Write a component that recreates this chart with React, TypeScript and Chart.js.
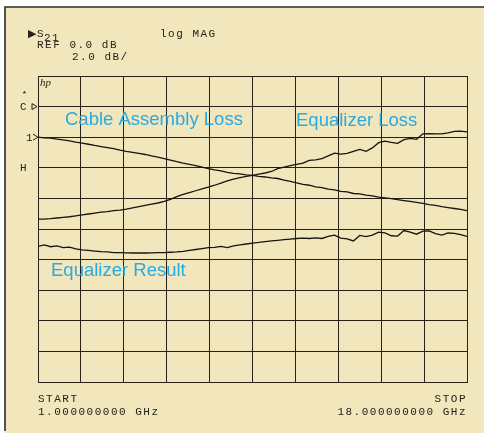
import React, { useEffect, useRef } from "react";
import { Chart, registerables } from "chart.js";

Chart.register(...registerables);

// Frequency sweep (GHz)
const freqGHz = [
  1, 1.25, 1.5, 1.75, 2, 2.25, 2.5, 2.75, 3, 3.25, 3.5, 3.75, 4, 4.25, 4.5, 4.75,
  5, 5.25, 5.5, 5.75, 6, 6.25, 6.5, 6.75, 7, 7.25, 7.5, 7.75, 8, 8.25, 8.5, 8.75,
  9, 9.25, 9.5, 9.75, 10, 10.25, 10.5, 10.75, 11, 11.25, 11.5, 11.75, 12, 12.25,
  12.5, 12.75, 13, 13.25, 13.5, 13.75, 14, 14.25, 14.5, 14.75, 15, 15.25, 15.5,
  15.75, 16, 16.25, 16.5, 16.75, 17, 17.25, 17.5, 17.75, 18,
];

// S21 magnitude (dB)
const cableAssemblyLoss = [
  0.0, -0.04, -0.06, -0.12, -0.18, -0.24, -0.32, -0.39, -0.46, -0.54, -0.61, -0.68,
  -0.75, -0.84, -0.92, -0.99, -1.06, -1.13, -1.22, -1.3, -1.4, -1.5, -1.6, -1.7,
  -1.78, -1.86, -1.96, -2.06, -2.14, -2.2, -2.3, -2.36, -2.4, -2.46, -2.5, -2.56,
  -2.6, -2.66, -2.7, -2.8, -2.88, -2.98, -3.08, -3.14, -3.24, -3.3, -3.4, -3.44,
  -3.54, -3.58, -3.68, -3.7, -3.78, -3.84, -3.92, -3.96, -4.02, -4.08, -4.14,
  -4.2, -4.26, -4.32, -4.4, -4.46, -4.54, -4.6, -4.66, -4.72, -4.8,
];

const equalizerLoss = [
  -5.36, -5.35, -5.32, -5.28, -5.24, -5.2, -5.14, -5.08, -5.02, -4.96, -4.9, -4.86,
  -4.8, -4.76, -4.7, -4.62, -4.54, -4.46, -4.38, -4.3, -4.2, -4.06, -3.88, -3.74,
  -3.62, -3.5, -3.38, -3.26, -3.14, -3.0, -2.86, -2.74, -2.64, -2.56, -2.5, -2.42,
  -2.34, -2.24, -2.06, -1.96, -1.86, -1.78, -1.7, -1.52, -1.48, -1.4, -1.22, -1.04,
  -1.1, -1.06, -0.92, -0.8, -0.92, -0.7, -0.36, -0.26, -0.34, -0.4, -0.16, -0.08,
  -0.14, 0.22, 0.24, 0.22, 0.22, 0.28, 0.38, 0.4, 0.35,
];

const equalizerResult = [
  -7.14, -7.04, -7.16, -7.1, -7.22, -7.18, -7.3, -7.36, -7.4, -7.44, -7.48, -7.5,
  -7.54, -7.55, -7.56, -7.57, -7.56, -7.57, -7.56, -7.55, -7.54, -7.52, -7.5, -7.46,
  -7.4, -7.34, -7.28, -7.22, -7.2, -7.14, -7.22, -7.1, -7.04, -6.98, -6.92, -6.88,
  -6.82, -6.78, -6.74, -6.7, -6.66, -6.62, -6.6, -6.62, -6.58, -6.62, -6.48, -6.4,
  -6.6, -6.64, -6.78, -6.42, -6.5, -6.4, -6.2, -6.26, -6.44, -6.46, -6.1, -6.2,
  -6.34, -6.14, -6.12, -6.3, -6.4, -6.26, -6.28, -6.36, -6.48,
];

// Graticule: 10 horizontal divisions across the sweep, 2 dB/div vertically
const xGridGHz = [1, 2.7, 4.4, 6.1, 7.8, 9.5, 11.2, 12.9, 14.6, 16.3, 18];
const yMinDb = -16;
const yMaxDb = 4;
const dbPerDiv = 2;

const seriesNames = ["Cable Assembly Loss", "Equalizer Loss", "Equalizer Result"];

const BEIGE = "#F2E6BD";
const INK = "#262219";
const BLUE = "#29ABE2";
const PLOT_FONT = "Liberation Mono";

const panelPlugin = {
  id: "panel",
  beforeDraw(chart: any) {
    const ctx = chart.ctx as CanvasRenderingContext2D;
    const w = chart.width;
    const h = chart.height;
    ctx.save();
    ctx.fillStyle = "#ffffff";
    ctx.fillRect(0, 0, w, h);
    ctx.fillStyle = BEIGE;
    ctx.fillRect(5, 7, w - 5, h - 7);
    ctx.strokeStyle = "#2a2a2a";
    ctx.lineWidth = 1.6;
    ctx.beginPath();
    ctx.moveTo(5, h - 2);
    ctx.lineTo(5, 7);
    ctx.lineTo(w, 7);
    ctx.stroke();
    ctx.restore();
  },
  afterDraw(chart: any) {
    const ctx = chart.ctx as CanvasRenderingContext2D;
    const { left, right, top } = chart.chartArea;
    const yScale = chart.scales.y;
    ctx.save();
    ctx.fillStyle = INK;
    ctx.strokeStyle = INK;
    (ctx as any).letterSpacing = "1.5px";
    ctx.font = `11px "${PLOT_FONT}"`;
    ctx.textBaseline = "alphabetic";
    ctx.textAlign = "left";

    // header
    ctx.fillText("\u25B6", 28, 37);
    ctx.fillText("S", 37, 37);
    ctx.fillText("21", 44, 41);
    ctx.fillText("REF 0.0 dB", 37, 48);
    ctx.fillText("2.0 dB/", 72, 60);
    ctx.fillText("log MAG", 160, 37);

    // footer
    ctx.fillText("START", 38, 402);
    ctx.fillText("1.000000000 GHz", 38, 415);
    ctx.textAlign = "right";
    ctx.fillText("STOP", right, 402);
    ctx.fillText("18.000000000 GHz", right, 415);

    // left markers
    ctx.textAlign = "left";
    const yC = yScale.getPixelForValue(2);
    const y1 = yScale.getPixelForValue(0);
    const yH = yScale.getPixelForValue(-2);
    ctx.font = `bold 8px "${PLOT_FONT}"`;
    (ctx as any).letterSpacing = "0px";
    ctx.fillText("*", 22, yC - 11);
    ctx.font = `11px "${PLOT_FONT}"`;
    ctx.fillText("C", 20, yC + 3.5);
    ctx.fillText("1", 26, y1 + 4);
    ctx.fillText("H", 20, yH + 3.5);
    ctx.lineWidth = 1;
    ctx.beginPath();
    ctx.moveTo(32, yC - 3);
    ctx.lineTo(37, yC);
    ctx.lineTo(32, yC + 3);
    ctx.closePath();
    ctx.stroke();
    ctx.beginPath();
    ctx.moveTo(33, y1 - 3);
    ctx.lineTo(38, y1);
    ctx.lineTo(33, y1 + 3);
    ctx.stroke();

    // hp logo
    ctx.font = `italic 11px "Liberation Serif"`;
    ctx.fillText("hp", left + 2, top + 10);

    // blue annotations
    ctx.fillStyle = BLUE;
    ctx.font = `18.5px "Liberation Sans"`;
    ctx.fillText(seriesNames[0], 65, 125);
    ctx.fillText(seriesNames[1], 296, 126);
    ctx.fillText(seriesNames[2], 51, 276);
    ctx.restore();
  },
};

export default function App() {
  const canvasRef = useRef<HTMLCanvasElement | null>(null);

  useEffect(() => {
    const canvas = canvasRef.current;
    if (!canvas) return;
    const toPoints = (vals: number[]) =>
      freqGHz.map((f, i) => ({ x: f, y: vals[i] }));
    const lineStyle = {
      borderColor: "#161410",
      borderWidth: 1.3,
      pointRadius: 0,
      tension: 0,
      fill: false,
    };
    const gridStyle = {
      color: INK,
      lineWidth: 1,
      drawTicks: false,
    };
    const chart = new Chart(canvas, {
      type: "line",
      data: {
        datasets: [
          { label: seriesNames[0], data: toPoints(cableAssemblyLoss), ...lineStyle },
          { label: seriesNames[1], data: toPoints(equalizerLoss), ...lineStyle },
          { label: seriesNames[2], data: toPoints(equalizerResult), ...lineStyle },
        ],
      },
      options: {
        animation: false,
        responsive: false,
        devicePixelRatio: 1,
        layout: { padding: { left: 38, right: 17, top: 76, bottom: 51 } },
        plugins: {
          legend: { display: false },
          tooltip: { enabled: false },
          title: { display: false },
        },
        scales: {
          x: {
            type: "linear",
            min: xGridGHz[0],
            max: xGridGHz[xGridGHz.length - 1],
            ticks: { display: false },
            grid: gridStyle,
            border: { display: true, color: INK, width: 1 },
            afterBuildTicks: (s: any) => {
              s.ticks = xGridGHz.map((v) => ({ value: v }));
            },
            afterFit: (s: any) => {
              s.height = 0;
            },
          },
          y: {
            type: "linear",
            min: yMinDb,
            max: yMaxDb,
            ticks: { display: false, stepSize: dbPerDiv },
            grid: gridStyle,
            border: { display: true, color: INK, width: 1 },
            afterFit: (s: any) => {
              s.width = 0;
            },
          },
        },
      } as any,
      plugins: [panelPlugin],
    });
    return () => chart.destroy();
  }, []);

  return (
    <div style={{ position: "absolute", left: 0, top: 0, width: 484, height: 433 }}>
      <canvas ref={canvasRef} width={484} height={433} style={{ display: "block" }} />
    </div>
  );
}
